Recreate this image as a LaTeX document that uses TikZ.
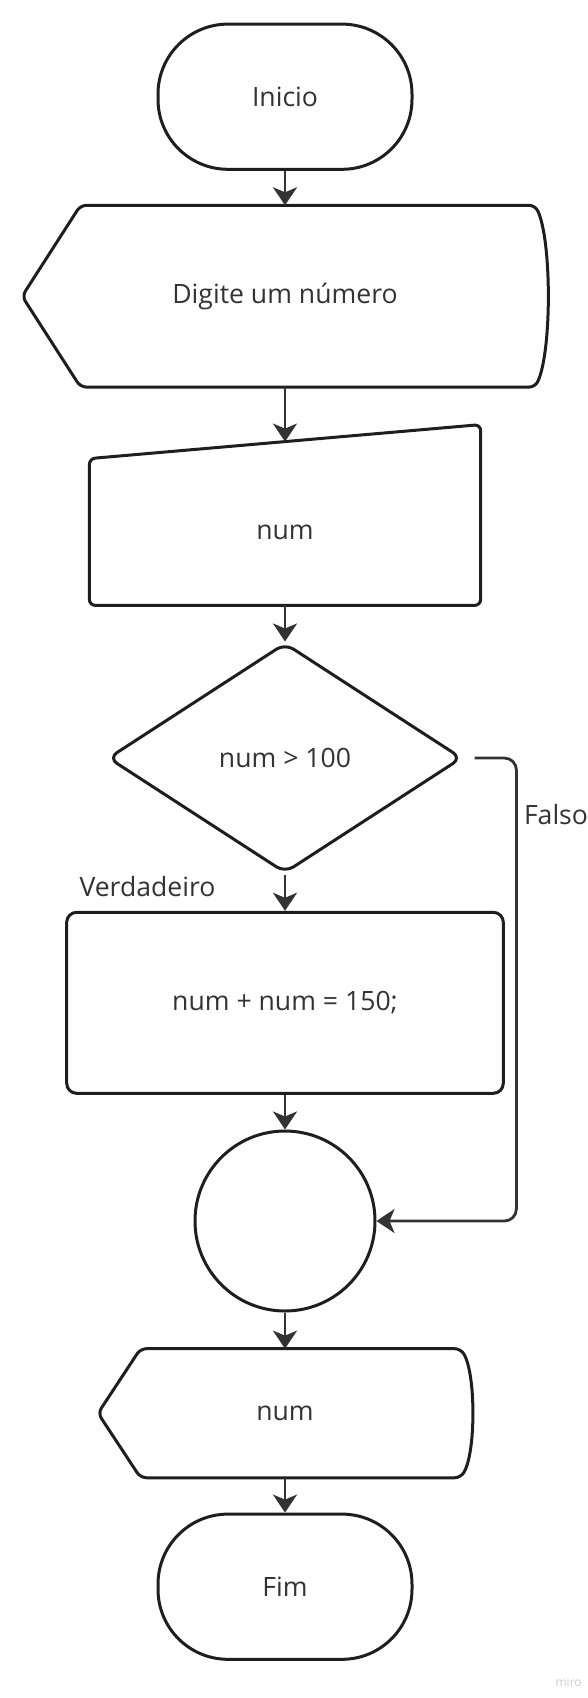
\documentclass[tikz,border=0pt]{standalone}
\usepackage{fontspec}
\setmainfont{Open Sans}
\usetikzlibrary{shapes.geometric,calc,arrows.meta,positioning}
\definecolor{traco}{HTML}{1E1E1E}
\definecolor{texto}{HTML}{333333}
\definecolor{linha}{HTML}{333333}
\tikzset{
  rotulo/.style={text=texto, font=\fontsize{13.3}{16}\selectfont, inner sep=0pt},
  bloco/.style={rotulo, draw=traco, line width=1.5pt},
  terminal/.style={bloco, rounded corners=35pt, minimum width=127pt, minimum height=72.6pt},
  processo/.style={bloco, rounded corners=5pt, minimum width=218.3pt, minimum height=90.5pt},
  decisao/.style={bloco, diamond, rounded corners=5pt, minimum width=177pt, minimum height=115pt},
  juncao/.style={bloco, circle, minimum size=90pt},
  forma/.style={rotulo},
  contorno/.style={draw=traco, line width=1.5pt, rounded corners=3pt, line join=round},
  seta/.style={draw=linha, line width=1.4pt, -{Stealth[length=9pt,width=12pt,inset=2.5pt]}}
}
\begin{document}
\begin{tikzpicture}[x=0.5pt,y=-0.5pt]
  \useasboundingbox (0,0) rectangle (588,1698);

  \node[terminal] (inicio) at (285,96.7) {Inicio};

  % saida na tela
  \node[forma, minimum width=262.5pt, minimum height=90.5pt] (digite) at (285,296.2) {Digite um número};
  \draw[contorno] (digite.west) -- ($(digite.north west)+(58.4,0)$)
    -- ($(digite.north east)+(-12.8,0)$)
    .. controls ($(digite.north east)+(4,35)$) and ($(digite.south east)+(4,-35)$) .. ($(digite.south east)+(-12.8,0)$)
    -- ($(digite.south west)+(58.4,0)$) -- cycle;

  % entrada manual
  \node[forma, minimum width=195.25pt, minimum height=73pt] (ler) at (285,532) {num};
  \draw[contorno] (ler.south west) -- (ler.north west) -- ($(ler.north east)+(0,-34)$)
    -- (ler.south east) -- cycle;
  \coordinate (lerTopo) at ($(ler.north)+(0,-17)$);

  \node[decisao] (teste) at (285,758) {num > 100};
  \node[processo] (soma) at (285,1002.8) {num + num = 150;};
  \node[juncao] (uniao) at (285,1221) {};

  \node[forma, minimum width=186.6pt, minimum height=64.15pt] (mostra) at (285,1413.2) {num};
  \draw[contorno] (mostra.west) -- ($(mostra.north west)+(42.5,0)$)
    -- ($(mostra.north east)+(-11.4,0)$)
    .. controls ($(mostra.north east)+(4,25)$) and ($(mostra.south east)+(4,-25)$) .. ($(mostra.south east)+(-11.4,0)$)
    -- ($(mostra.south west)+(42.5,0)$) -- cycle;

  \node[terminal] (fim) at (285,1586.7) {Fim};

  \node[rotulo] (verdadeiro) at (147.5,886.7) {Verdadeiro};
  \node[rotulo] (falso) at (556,815) {Falso};
  \node[font=\fontsize{6}{6}\selectfont, text=black!20, inner sep=0pt] (marca) at (568.6,1682) {miro};

  \draw[seta] (inicio.south) -- (digite.north);
  \draw[seta] (digite.south) -- (lerTopo);
  \draw[seta] (ler.south) -- (teste.north);
  \draw[seta] (teste.south) -- (soma.north);
  \draw[seta] (soma.south) -- (uniao.north);
  \draw[seta] (uniao.south) -- (mostra.north);
  \draw[seta] (mostra.south) -- (fim.north);

  \coordinate (falsoCanto) at (516.4,758);
  \draw[seta, rounded corners=6pt] ($(teste.east)+(11,0)$) -- (falsoCanto) |- (uniao.east);
\end{tikzpicture}
\end{document}
